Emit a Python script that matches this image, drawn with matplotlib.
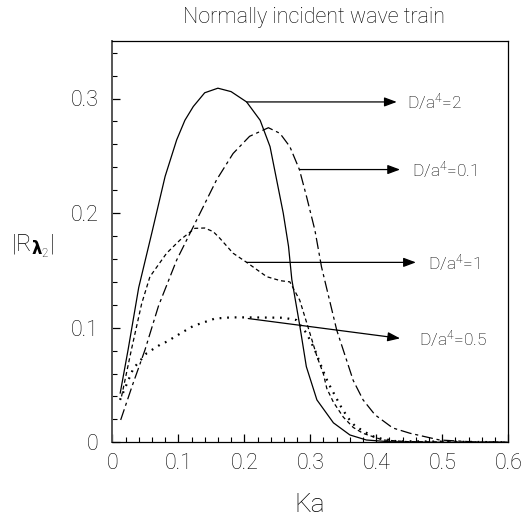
import matplotlib
matplotlib.use("Agg")
import matplotlib.pyplot as plt

# ---- data ----
ka_d2 = [0.012, 0.024, 0.04, 0.06, 0.08, 0.0976, 0.11, 0.1227, 0.14, 0.16, 0.18, 0.2035,
         0.224, 0.239, 0.249, 0.259, 0.267, 0.272, 0.284, 0.294, 0.31, 0.335, 0.36,
         0.385, 0.42, 0.5, 0.6]
r_d2 = [0.043, 0.081, 0.135, 0.183, 0.232, 0.264, 0.281, 0.293, 0.305, 0.309, 0.306, 0.297,
        0.281, 0.258, 0.229, 0.200, 0.171, 0.142, 0.102, 0.066, 0.037, 0.017, 0.0064,
        0.002, 0.0005, 0.0, 0.0]

ka_d01 = [0.0127, 0.03, 0.0495, 0.07, 0.0975, 0.133, 0.158, 0.183, 0.208, 0.2365,
          0.254, 0.269, 0.2835, 0.2945, 0.307, 0.317, 0.340, 0.365, 0.38, 0.398,
          0.425, 0.451, 0.496, 0.55, 0.6]
r_d01 = [0.0195, 0.049, 0.0806, 0.119, 0.159, 0.200, 0.229, 0.252, 0.267, 0.2745,
         0.2696, 0.258, 0.238, 0.214, 0.185, 0.153, 0.098, 0.054, 0.037, 0.024,
         0.0125, 0.0079, 0.002, 0.0003, 0.0]

ka_d1 = [0.014, 0.029, 0.0445, 0.057, 0.0823, 0.1026, 0.125, 0.14, 0.153, 0.163,
         0.183, 0.2036, 0.234, 0.255, 0.269, 0.284, 0.2995, 0.31, 0.3197, 0.325,
         0.335, 0.35, 0.365, 0.38, 0.41, 0.45, 0.6]
r_d1 = [0.04, 0.081, 0.121, 0.1445, 0.165, 0.1765, 0.1867, 0.187, 0.1838, 0.178,
        0.165, 0.157, 0.1445, 0.141, 0.140, 0.124, 0.095, 0.075, 0.060, 0.047,
        0.035, 0.022, 0.013, 0.0078, 0.002, 0.0005, 0.0]

ka_d05 = [0.0117, 0.032, 0.052, 0.072, 0.0824, 0.1076, 0.1227, 0.1556, 0.18, 0.206,
          0.259, 0.279, 0.2945, 0.307, 0.3197, 0.327, 0.34, 0.3475, 0.3576, 0.3677,
          0.388, 0.40, 0.43, 0.6]
r_d05 = [0.037, 0.0646, 0.0777, 0.085, 0.0878, 0.0965, 0.1015, 0.108, 0.109, 0.109,
         0.1087, 0.1067, 0.095, 0.0805, 0.062, 0.052, 0.038, 0.030, 0.021, 0.0142,
         0.0072, 0.004, 0.001, 0.0]

labels = ["D/a$^{4}$=2", "D/a$^{4}$=0.1", "D/a$^{4}$=1", "D/a$^{4}$=0.5"]
arrow_start = [(0.2035, 0.297), (0.2835, 0.238), (0.2036, 0.157), (0.206, 0.108)]
arrow_end = [(0.431, 0.297), (0.436, 0.238), (0.460, 0.157), (0.436, 0.0907)]
label_pos = [(0.446, 0.297), (0.4536, 0.238), (0.478, 0.157), (0.465, 0.0907)]

xticks = [0, 0.1, 0.2, 0.3, 0.4, 0.5, 0.6]
xticklabels = ["0", "0.1", "0.2", "0.3", "0.4", "0.5", "0.6"]
yticks = [0, 0.1, 0.2, 0.3]
yticklabels = ["0", "0.1", "0.2", "0.3"]

# ---- styling ----
plt.rcParams['font.family'] = ['Roboto', 'DejaVu Sans']
plt.rcParams['font.weight'] = 'light'
plt.rcParams['mathtext.fontset'] = 'custom'
plt.rcParams['mathtext.rm'] = 'Roboto:light'
plt.rcParams['mathtext.bf'] = 'DejaVu Sans:bold'
plt.rcParams['mathtext.it'] = 'Roboto:light'
txtc = '#000000'

fig = plt.figure(figsize=(5.30, 5.17), dpi=100)
ax = fig.add_axes([112.3 / 530, 1 - 442.3 / 517, (508.3 - 112.3) / 530, (442.3 - 41.2) / 517])

lw = 0.9
ax.plot(ka_d2, r_d2, color='black', lw=lw, ls='-')
ax.plot(ka_d01, r_d01, color='black', lw=lw, ls=(0, (9, 3, 2.5, 3)))
ax.plot(ka_d1, r_d1, color='black', lw=lw, ls=(0, (3.2, 2.4)))
ax.plot(ka_d05, r_d05, color='black', lw=1.6, ls=(0, (0.8, 2.6)))

for s, e, lp, lab in zip(arrow_start, arrow_end, label_pos, labels):
    ax.annotate('', xy=e, xytext=s,
                arrowprops=dict(arrowstyle='-|>,head_length=0.75,head_width=0.28',
                                color='black', lw=0.9, shrinkA=0, shrinkB=0))
    ax.text(lp[0], lp[1], lab, fontsize=12.5, color=txtc, ha='left', va='center')

ax.set_xlim(0, 0.6)
ax.set_ylim(0, 0.35)
ax.set_xticks(xticks)
ax.set_xticklabels(xticklabels)
ax.set_yticks(yticks)
ax.set_yticklabels(yticklabels)
ax.set_xticks([i * 0.02 for i in range(31)], minor=True)
ax.set_yticks([i * 0.02 for i in range(18)], minor=True)
ax.tick_params(which='both', direction='in', top=False, right=False, colors='black',
               labelcolor=txtc)
ax.tick_params(which='major', length=6, width=0.9, labelsize=15.5)
ax.tick_params(which='minor', length=3.5, width=0.8)
ax.tick_params(axis='y', pad=10)
ax.tick_params(axis='x', pad=8)
for sp in ax.spines.values():
    sp.set_linewidth(0.9)
ax.spines['left'].set_color('#555555')
ax.spines['left'].set_linewidth(1.4)

fig.text(314 / 530, 1 - 17 / 517, "Normally incident wave train", fontsize=15.5,
         color=txtc, ha='center', va='center')
fig.text(310 / 530, 1 - 505 / 517, "Ka", fontsize=19, color=txtc, ha='center', va='center')
fig.text(33 / 530, 1 - 246 / 517, r"$|\mathrm{R}_{\mathbf{\lambda}_{\mathrm{2}}}|$",
         fontsize=17, color=txtc, ha='center', va='center')

fig.savefig("out.png", dpi=100)
